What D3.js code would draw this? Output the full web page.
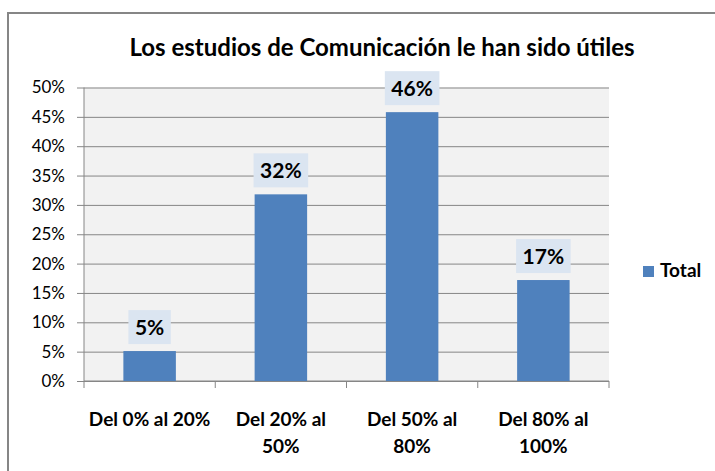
<!DOCTYPE html>
<html><head><meta charset="utf-8">
<script src="https://cdn.jsdelivr.net/npm/d3@7"></script>
<style>body{margin:0;background:#fff}svg{display:block}text{font-family:Lato,"Open Sans",sans-serif}</style>
</head><body><svg id="c" width="715" height="471"></svg>
<script>
const title = "Los estudios de Comunicación le han sido útiles";
const categories = ["Del 0% al 20%", "Del 20% al 50%", "Del 50% al 80%", "Del 80% al 100%"];
const values = [0.051, 0.318, 0.458, 0.172];
const valueLabels = ["5%", "32%", "46%", "17%"];
const yTicks = [0, 0.05, 0.10, 0.15, 0.20, 0.25, 0.30, 0.35, 0.40, 0.45, 0.50];
const seriesName = "Total";

const svg = d3.select("#c");
const m = {left: 84, right: 609, top: 87.5, bottom: 381};
const blue = "#4f81bd", grid = "#868686";

svg.append("rect").attr("x", 8).attr("y", 13).attr("width", 714).attr("height", 470)
  .attr("fill", "#fff").attr("stroke", "#868686").attr("stroke-width", 2);

svg.append("text").attr("x", 382).attr("y", 56).attr("text-anchor", "middle")
  .attr("font-size", 24).attr("font-weight", "bold").attr("fill", "#000").text(title);

const x = d3.scaleBand().domain(categories).range([m.left, m.right]).paddingInner(0.6).paddingOuter(0.3);
const xb = d3.scaleBand().domain(categories).range([m.left, m.right]);
const y = d3.scaleLinear().domain([0, 0.5]).range([m.bottom, m.top]);

svg.append("rect").attr("x", m.left).attr("y", m.top).attr("width", m.right - m.left)
  .attr("height", m.bottom - m.top).attr("fill", "#f2f2f2");

// y axis with gridlines
const yAxis = d3.axisLeft(y).tickValues(yTicks).tickFormat(d3.format(".0%"))
  .tickSize(-(m.right - m.left)).tickPadding(19);
const gy = svg.append("g").attr("transform", `translate(${m.left},0)`).call(yAxis);
gy.select(".domain").remove();
gy.selectAll(".tick line").attr("stroke", grid).attr("stroke-width", 1).attr("x1", -7);
gy.selectAll(".tick text").attr("font-size", 17).attr("fill", "#000")
  .attr("font-family", "Lato, 'Open Sans', sans-serif");
svg.append("line").attr("x1", m.left).attr("x2", m.left).attr("y1", m.top).attr("y2", m.bottom + 0.5)
  .attr("stroke", grid);

// x axis
const gx = svg.append("g").attr("transform", `translate(0,${m.bottom})`);
gx.append("line").attr("x1", m.left).attr("x2", m.right).attr("stroke", grid);
const bounds = categories.map(c => xb(c)).concat([m.right]);
gx.selectAll("line.tk").data(bounds).join("line").attr("class", "tk")
  .attr("x1", d => d).attr("x2", d => d).attr("y1", 0).attr("y2", 7).attr("stroke", grid);

const xl = gx.selectAll("text.cat").data(categories).join("text").attr("class", "cat")
  .attr("x", d => xb(d) + xb.bandwidth() / 2).attr("y", 45)
  .attr("text-anchor", "middle").attr("font-size", 19).attr("font-weight", "bold").attr("fill", "#000");
xl.each(function(d) {
  const t = d3.select(this);
  const words = d.split(" ");
  let line = [], lines = [];
  const tmp = t.append("tspan");
  words.forEach(w => {
    const test = line.concat([w]).join(" ");
    tmp.text(test);
    if (tmp.node().getComputedTextLength() > 130 && line.length) { lines.push(line.join(" ")); line = [w]; }
    else line.push(w);
  });
  lines.push(line.join(" "));
  tmp.remove();
  lines.forEach((l, i) => t.append("tspan").attr("x", xb(d) + xb.bandwidth() / 2).attr("dy", i ? 27 : 0).text(l));
});

// bars
svg.selectAll("rect.bar").data(values).join("rect").attr("class", "bar")
  .attr("x", (d, i) => x(categories[i])).attr("width", x.bandwidth())
  .attr("y", d => y(d)).attr("height", d => y(0) - y(d)).attr("fill", blue);

// data labels
const lg = svg.selectAll("g.lab").data(values).join("g").attr("class", "lab");
lg.each(function(d, i) {
  const g = d3.select(this);
  const cx = x(categories[i]) + x.bandwidth() / 2;
  const t = g.append("text").attr("x", cx).attr("y", y(d) - 16).attr("text-anchor", "middle")
    .attr("font-size", 21).attr("font-weight", "bold").attr("fill", "#000").text(valueLabels[i]);
  const w = t.node().getComputedTextLength() + 13;
  g.insert("rect", "text").attr("x", cx - w / 2).attr("y", y(d) - 41).attr("width", w).attr("height", 34)
    .attr("fill", "#dbe5f1");
});

// legend
svg.append("rect").attr("x", 643).attr("y", 266).attr("width", 11).attr("height", 11).attr("fill", blue);
svg.append("text").attr("x", 660).attr("y", 277).attr("font-size", 19).attr("font-weight", "bold")
  .attr("fill", "#000").text(seriesName);
</script></body></html>
